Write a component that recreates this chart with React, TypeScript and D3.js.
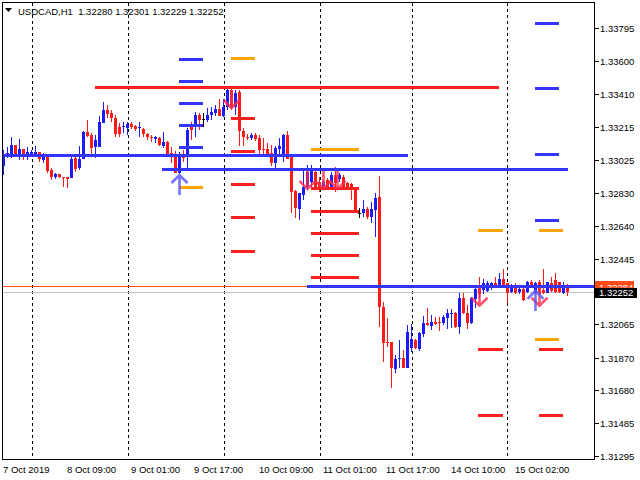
import React from 'react';
import * as d3 from 'd3';

// ---------- DATA ----------
const opens = [
  1.32989, 1.33041, 1.33041, 1.33112, 1.33041, 1.33088, 1.33059, 1.33059, 1.33059, 1.33070,
  1.33024, 1.33041, 1.32966, 1.32925, 1.32943, 1.32925, 1.32925, 1.32919, 1.33035, 1.32977,
  1.33029, 1.33187, 1.33170, 1.33100, 1.33100, 1.33240, 1.33316, 1.33299, 1.33269, 1.33217,
  1.33217, 1.33211, 1.33234, 1.33223, 1.33211, 1.33205, 1.33176, 1.33158, 1.33146, 1.33152,
  1.33106, 1.33129, 1.33064, 1.33059, 1.32948, 1.33059, 1.33059, 1.33229, 1.33229, 1.33287,
  1.33264, 1.33258, 1.33287, 1.33299, 1.33322, 1.33281, 1.33334, 1.33433, 1.33334, 1.33421,
  1.33193, 1.33158, 1.33152, 1.33170, 1.33152, 1.33088, 1.33088, 1.33064, 1.33006, 1.33088,
  1.33053, 1.33170, 1.33041, 1.32843, 1.32738, 1.32820, 1.32866, 1.32896, 1.32954, 1.32896,
  1.32860, 1.32907, 1.32860, 1.32937, 1.32913, 1.32925, 1.32890, 1.32884, 1.32860, 1.32715,
  1.32715, 1.32738, 1.32691, 1.32732, 1.32808, 1.32165, 1.31961, 1.31961, 1.31803, 1.31862,
  1.31868, 1.31809, 1.31926, 1.31973, 1.31920, 1.32008, 1.32072, 1.32054, 1.32077, 1.32077,
  1.32072, 1.32101, 1.32125, 1.32130, 1.32048, 1.32218, 1.32130, 1.32072, 1.32212, 1.32282,
  1.32265, 1.32259, 1.32288, 1.32305, 1.32294, 1.32328, 1.32305, 1.32253, 1.32282, 1.32253,
  1.32270, 1.32253, 1.32311, 1.32247, 1.32311, 1.32265, 1.32247, 1.32305, 1.32323, 1.32311,
  1.32247, 1.32280,
];
const highs = [
  1.33082, 1.33100, 1.33158, 1.33112, 1.33146, 1.33088, 1.33100, 1.33082, 1.33106, 1.33070,
  1.33064, 1.33053, 1.32977, 1.32948, 1.32943, 1.32925, 1.32925, 1.33041, 1.33047, 1.33106,
  1.33193, 1.33258, 1.33181, 1.33170, 1.33281, 1.33363, 1.33345, 1.33316, 1.33287, 1.33240,
  1.33246, 1.33246, 1.33246, 1.33229, 1.33246, 1.33211, 1.33181, 1.33170, 1.33164, 1.33158,
  1.33187, 1.33135, 1.33100, 1.33076, 1.33070, 1.33082, 1.33211, 1.33246, 1.33305, 1.33299,
  1.33299, 1.33328, 1.33334, 1.33345, 1.33380, 1.33380, 1.33445, 1.33445, 1.33433, 1.33433,
  1.33211, 1.33176, 1.33181, 1.33181, 1.33170, 1.33152, 1.33123, 1.33112, 1.33106, 1.33152,
  1.33176, 1.33193, 1.33053, 1.32849, 1.32831, 1.32977, 1.32995, 1.32995, 1.32977, 1.32925,
  1.32907, 1.32919, 1.32954, 1.32983, 1.32948, 1.32937, 1.32896, 1.32890, 1.32866, 1.32744,
  1.32790, 1.32750, 1.32779, 1.32831, 1.32931, 1.32194, 1.32101, 1.31961, 1.31885, 1.31973,
  1.31914, 1.32060, 1.32066, 1.31979, 1.32019, 1.32113, 1.32160, 1.32119, 1.32107, 1.32107,
  1.32119, 1.32154, 1.32154, 1.32136, 1.32247, 1.32247, 1.32177, 1.32224, 1.32282, 1.32340,
  1.32328, 1.32317, 1.32311, 1.32340, 1.32364, 1.32387, 1.32305, 1.32299, 1.32305, 1.32282,
  1.32282, 1.32317, 1.32323, 1.32311, 1.32323, 1.32387, 1.32311, 1.32340, 1.32364, 1.32311,
  1.32311, 1.32301,
];
const lows = [
  1.32937, 1.33035, 1.33035, 1.33047, 1.33024, 1.33024, 1.33024, 1.33047, 1.33053, 1.33012,
  1.33006, 1.32948, 1.32907, 1.32913, 1.32919, 1.32866, 1.32860, 1.32919, 1.32954, 1.32966,
  1.33029, 1.33158, 1.33041, 1.33035, 1.33100, 1.33240, 1.33269, 1.33246, 1.33158, 1.33158,
  1.33181, 1.33170, 1.33205, 1.33193, 1.33158, 1.33158, 1.33141, 1.33129, 1.33123, 1.33106,
  1.33094, 1.33041, 1.33006, 1.32948, 1.32943, 1.33012, 1.32977, 1.33141, 1.33158, 1.33199,
  1.33217, 1.33246, 1.33258, 1.33281, 1.33281, 1.33275, 1.33316, 1.33316, 1.33287, 1.33106,
  1.33106, 1.33141, 1.33141, 1.33135, 1.33053, 1.33041, 1.33041, 1.32989, 1.32971, 1.33041,
  1.33012, 1.33029, 1.32715, 1.32685, 1.32674, 1.32790, 1.32849, 1.32849, 1.32849, 1.32837,
  1.32849, 1.32849, 1.32849, 1.32837, 1.32896, 1.32849, 1.32860, 1.32790, 1.32715, 1.32685,
  1.32691, 1.32680, 1.32656, 1.32574, 1.32048, 1.31844, 1.31932, 1.31692, 1.31780, 1.31809,
  1.31809, 1.31809, 1.31903, 1.31920, 1.31908, 1.31990, 1.32054, 1.32031, 1.32060, 1.32025,
  1.32060, 1.32037, 1.32043, 1.32043, 1.32008, 1.32125, 1.32037, 1.32066, 1.32160, 1.32218,
  1.32241, 1.32253, 1.32265, 1.32276, 1.32282, 1.32282, 1.32189, 1.32247, 1.32241, 1.32241,
  1.32200, 1.32247, 1.32282, 1.32241, 1.32230, 1.32241, 1.32247, 1.32253, 1.32247, 1.32247,
  1.32241, 1.32229,
];
const closes = [
  1.33047, 1.33064, 1.33112, 1.33053, 1.33088, 1.33059, 1.33070, 1.33070, 1.33070, 1.33029,
  1.33041, 1.32960, 1.32925, 1.32943, 1.32925, 1.32919, 1.32913, 1.33029, 1.32971, 1.33029,
  1.33187, 1.33164, 1.33094, 1.33141, 1.33246, 1.33316, 1.33293, 1.33269, 1.33176, 1.33176,
  1.33223, 1.33234, 1.33217, 1.33205, 1.33217, 1.33176, 1.33158, 1.33152, 1.33158, 1.33112,
  1.33129, 1.33059, 1.33041, 1.32948, 1.33059, 1.33035, 1.33199, 1.33199, 1.33287, 1.33258,
  1.33264, 1.33287, 1.33305, 1.33322, 1.33281, 1.33334, 1.33433, 1.33328, 1.33415, 1.33193,
  1.33158, 1.33152, 1.33170, 1.33146, 1.33082, 1.33082, 1.33059, 1.33006, 1.33094, 1.33106,
  1.33170, 1.33029, 1.32837, 1.32744, 1.32831, 1.32866, 1.32954, 1.32977, 1.32860, 1.32849,
  1.32896, 1.32866, 1.32937, 1.32890, 1.32937, 1.32866, 1.32866, 1.32849, 1.32715, 1.32715,
  1.32738, 1.32691, 1.32738, 1.32802, 1.32165, 1.31955, 1.31955, 1.31809, 1.31862, 1.31868,
  1.31809, 1.32019, 1.31979, 1.31926, 1.32014, 1.32072, 1.32060, 1.32077, 1.32066, 1.32072,
  1.32107, 1.32130, 1.32130, 1.32048, 1.32218, 1.32130, 1.32072, 1.32218, 1.32270, 1.32241,
  1.32305, 1.32305, 1.32305, 1.32282, 1.32328, 1.32294, 1.32247, 1.32282, 1.32247, 1.32270,
  1.32206, 1.32311, 1.32294, 1.32305, 1.32241, 1.32247, 1.32311, 1.32259, 1.32253, 1.32253,
  1.32294, 1.32252,
];

const yTickValues = [1.33795, 1.336, 1.3341, 1.33215, 1.33025, 1.3283, 1.3264, 1.32445, 1.32065, 1.3187, 1.3168, 1.31485, 1.31295];
const xLabelIndex = [0, 16, 32, 48, 64, 80, 96, 112, 128];
const xLabelText = ['7 Oct 2019', '8 Oct 09:00', '9 Oct 01:00', '9 Oct 17:00', '10 Oct 09:00', '11 Oct 01:00', '11 Oct 17:00', '14 Oct 10:00', '15 Oct 02:00'];
const daySeparators = [7, 31, 55, 79, 102, 126];

// long horizontal lines (price, start bar, end bar, kind)
const linePrices = [1.33447, 1.33053, 1.32970, 1.32284];
const lineStart = [22.9, -3, 39.6, 75.9];
const lineEnd = [123.9, 101.1, 141.1, 170];
const lineKind = ['red', 'blue', 'blue', 'blue'];

// short level dashes (price, start bar, end bar, kind)
const dashPrices = [
  1.33612, 1.33481, 1.33355, 1.33224, 1.33096, 1.32862,
  1.33614, 1.33268, 1.33072, 1.32878, 1.32691, 1.32492,
  1.33088, 1.32860, 1.32726, 1.32596, 1.32467, 1.32339,
  1.32613, 1.31920, 1.31534,
  1.33824, 1.33439, 1.33057, 1.32672, 1.31977,
  1.32613, 1.31920, 1.31534,
];
const dashStart = [
  43.9, 43.9, 43.9, 43.9, 43.9, 43.9,
  56.9, 56.9, 56.9, 56.9, 56.9, 56.9,
  76.9, 76.9, 76.9, 76.9, 76.9, 76.9,
  118.6, 118.6, 118.6,
  132.9, 132.9, 132.9, 132.9, 132.9,
  133.9, 133.9, 133.9,
];
const dashEnd = [
  49.9, 49.9, 49.9, 49.9, 49.9, 49.9,
  62.9, 62.9, 62.9, 62.9, 62.9, 62.9,
  88.9, 88.9, 88.9, 88.9, 88.9, 88.9,
  124.9, 124.9, 124.9,
  138.9, 138.9, 138.9, 138.9, 138.9,
  139.9, 139.9, 139.9,
];
const dashKind = [
  'blue', 'blue', 'blue', 'blue', 'blue', 'orange',
  'orange', 'red', 'red', 'red', 'red', 'red',
  'orange', 'red', 'red', 'red', 'red', 'red',
  'orange', 'red', 'red',
  'blue', 'blue', 'blue', 'blue', 'orange',
  'orange', 'red', 'red',
];

// signal arrows (bar, tip price, direction)
const arrowBar = [44, 57, 76, 80, 83.5, 119, 134, 133];
const arrowPrice = [1.32942, 1.33322, 1.32849, 1.32849, 1.32849, 1.32167, 1.32167, 1.32265];
const arrowDir = ['up', 'down', 'down', 'down', 'down', 'down', 'down', 'up'];

const symbolHeader = 'USDCAD,H1  1.32280 1.32301 1.32229 1.32252';
const markerPrice = 1.32284;
const bidPrice = 1.32252;

// ---------- STYLE ----------
const W = 640;
const H = 480;
const left = 2.5;
const top = 2.5;
const right = 594.5;
const bottom = 459.5;
const BULL = '#1c1cff';
const BEAR = '#ff1a1a';
const COLORS: Record<string, string> = { red: '#ff1f1f', blue: '#3434ff', orange: '#ffa500' };
const FONT = "'Liberation Sans', Arial, sans-serif";

export default function App() {
  const x = d3.scaleLinear().domain([0, 141]).range([3.5, 3.5 + 4 * 141]);
  const y = d3.scaleLinear().domain([1.31295, 1.33795]).range([456, 28]);
  const fmt = d3.format('.5f');

  const candles = opens.map((o, i) => {
    const c = closes[i];
    const cx = x(i);
    const doji = Math.abs(o - c) < 1e-6;
    const color = doji ? '#000' : c > o ? BULL : BEAR;
    const yt = y(Math.max(o, c));
    const yb = y(Math.min(o, c));
    return (
      <g key={i}>
        <line x1={cx} x2={cx} y1={y(highs[i])} y2={y(lows[i])} stroke={color} strokeWidth={1} />
        <rect x={cx - 1.5} y={Math.round(yt)} width={3} height={Math.max(1, Math.round(yb) - Math.round(yt))} fill={color} />
      </g>
    );
  });

  const clipX = (v: number) => Math.max(left, Math.min(right, v));
  const markerY = Math.round(y(markerPrice));
  const bidY = Math.round(y(bidPrice));

  return (
    <svg width={W} height={H} style={{ position: 'absolute', left: 0, top: 0, background: '#fff' }} shapeRendering="crispEdges">
      <defs>
        <clipPath id="plot">
          <rect x={left} y={top} width={right - left} height={bottom - top} />
        </clipPath>
        <clipPath id="markerClip">
          <rect x={595} y={markerY - 6} width={40} height={bidY - 4.5 - (markerY - 6)} />
        </clipPath>
      </defs>
      <rect x={0} y={0} width={W} height={H} fill="#fff" />

      <g clipPath="url(#plot)">
        {daySeparators.map((d, k) => (
          <line key={k} x1={Math.round(x(d)) + 0.5} x2={Math.round(x(d)) + 0.5} y1={top} y2={bottom} stroke="#000" strokeDasharray="3,3" />
        ))}
        <line x1={left} x2={right} y1={y(markerPrice)} y2={y(markerPrice)} stroke="#ff4a1a" strokeWidth={1} />
        <line x1={left} x2={right} y1={bidY + 0.5} y2={bidY + 0.5} stroke="#c0c0c0" strokeWidth={1} />
        {candles}
        {linePrices.map((p, k) => (
          <line key={k} x1={clipX(x(lineStart[k]))} x2={clipX(x(lineEnd[k]))} y1={y(p)} y2={y(p)} stroke={COLORS[lineKind[k]]} strokeWidth={3} />
        ))}
        {dashPrices.map((p, k) => (
          <line key={k} x1={x(dashStart[k])} x2={x(dashEnd[k])} y1={y(p)} y2={y(p)} stroke={COLORS[dashKind[k]]} strokeWidth={3} />
        ))}
        <g shapeRendering="geometricPrecision">
          {arrowBar.map((b, k) => {
            const cx = x(b);
            const ty = y(arrowPrice[k]);
            if (arrowDir[k] === 'up') {
              return (
                <path key={k} d={`M${cx - 8},${ty + 9} L${cx},${ty + 1} L${cx + 8},${ty + 9} M${cx},${ty + 1} L${cx},${ty + 21}`}
                  fill="none" stroke="#5a5aff" strokeWidth={2.6} strokeOpacity={0.85} />
              );
            }
            return (
              <path key={k} d={`M${cx - 8},${ty - 9} L${cx},${ty - 1} L${cx + 8},${ty - 9} M${cx},${ty - 1} L${cx},${ty - 19}`}
                fill="none" stroke="#ff2a4a" strokeWidth={2.6} strokeOpacity={0.8} />
            );
          })}
        </g>
      </g>

      {/* frame */}
      <rect x={left} y={top} width={right - left} height={bottom - top} fill="none" stroke="#000" strokeWidth={1} />

      {/* y axis */}
      {yTickValues.map((v, k) => {
        const yy = Math.round(y(v)) + 0.5;
        return (
          <g key={k}>
            <line x1={right} x2={right + 4} y1={yy} y2={yy} stroke="#000" />
            <text x={600} y={yy + 3.5} fontFamily={FONT} fontSize={9.5} fill="#000">{fmt(v)}</text>
          </g>
        );
      })}

      {/* price labels */}
      <rect x={595} y={markerY - 6} width={39} height={12} fill="#ff4a1a" />
      <g clipPath="url(#markerClip)">
        <text x={599} y={markerY + 3.5} fontFamily={FONT} fontSize={9.5} fill="#fff">{fmt(markerPrice)}</text>
      </g>
      <rect x={595} y={bidY - 4.5} width={42} height={10} fill="#000" />
      <text x={599} y={bidY + 4} fontFamily={FONT} fontSize={9.5} fill="#fff">{fmt(bidPrice)}</text>

      {/* x axis labels */}
      {xLabelIndex.map((b, k) => (
        <text key={k} x={Math.round(x(b)) - 1} y={473} fontFamily={FONT} fontSize={9.5} fill="#000">{xLabelText[k]}</text>
      ))}

      {/* header */}
      <path d="M5,8 L12,8 L8.5,12 Z" fill="#000" shapeRendering="geometricPrecision" />
      <text x={18} y={15} fontFamily={FONT} fontSize={9.5} fill="#000" style={{ whiteSpace: 'pre' }}>{symbolHeader}</text>
    </svg>
  );
}
